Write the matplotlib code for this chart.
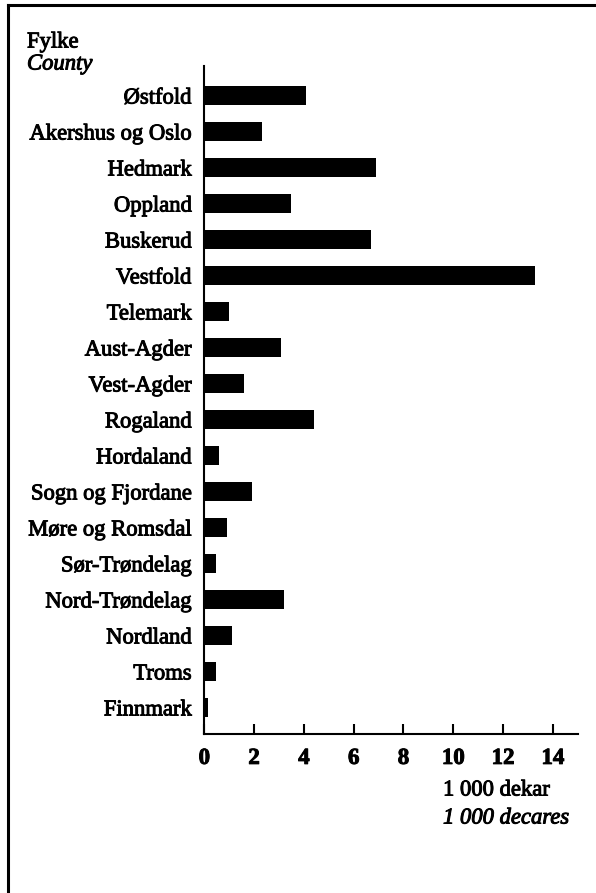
import matplotlib.pyplot as plt
import matplotlib.patheffects as pe
from matplotlib.lines import Line2D

counties = ["Østfold", "Akershus og Oslo", "Hedmark", "Oppland", "Buskerud",
            "Vestfold", "Telemark", "Aust-Agder", "Vest-Agder", "Rogaland",
            "Hordaland", "Sogn og Fjordane", "Møre og Romsdal", "Sør-Trøndelag",
            "Nord-Trøndelag", "Nordland", "Troms", "Finnmark"]
values = [4.1, 2.3, 6.9, 3.5, 6.7, 13.3, 1.0, 3.1, 1.6, 4.4,
          0.6, 1.9, 0.9, 0.45, 3.2, 1.1, 0.45, 0.15]
xticks = [0, 2, 4, 6, 8, 10, 12, 14]

plt.rcParams['font.family'] = ['Liberation Serif', 'DejaVu Serif']
# scanned print looks heavy: thicken glyphs a little
ink = [pe.withStroke(linewidth=0.7, foreground='black')]

fig = plt.figure(figsize=(5.96, 8.93), dpi=100)
W, H = 596, 893
ax = fig.add_axes([204.3 / W, 1 - 734 / H, 373.4 / W, 668 / H])

ypos = list(range(len(counties)))
ax.barh(ypos, values, height=0.53, color='black')

ax.set_xlim(0, 15)
ax.set_ylim(17.74, -0.82)
ax.set_yticks(ypos)
ax.set_yticklabels(counties, fontsize=16.3)
ax.tick_params(axis='y', length=0, pad=9)
ax.set_xticks(xticks)
ax.set_xticklabels([str(t) for t in xticks], fontsize=16.5, fontweight='bold')
ax.tick_params(axis='x', direction='in', length=7, width=1.5, pad=10)
for lab in ax.get_yticklabels() + ax.get_xticklabels():
    lab.set_path_effects(ink)

for s in ['top', 'right']:
    ax.spines[s].set_visible(False)
ax.spines['left'].set_linewidth(1.5)
ax.spines['bottom'].set_linewidth(1.5)

# headings
fig.text(27 / W, 1 - 42 / H, "Fylke", fontsize=16.3, va='center', ha='left',
         path_effects=ink)
fig.text(27 / W, 1 - 64 / H, "County", fontsize=16.3, style='italic',
         va='center', ha='left', path_effects=ink)
fig.text(443 / W, 1 - 790 / H, "1 000 dekar", fontsize=16.3, va='center',
         ha='left', path_effects=ink)
fig.text(443 / W, 1 - 818 / H, "1 000 decares", fontsize=16.3, style='italic',
         va='center', ha='left', path_effects=ink)

# frame (left and top edge)
fig.add_artist(Line2D([8 / W, 8 / W], [0, 1 - 5 / H], color='black', lw=2.2,
                      transform=fig.transFigure))
fig.add_artist(Line2D([8 / W, 1], [1 - 5 / H, 1 - 5 / H], color='black', lw=2.2,
                      transform=fig.transFigure))

fig.savefig("out.png", dpi=100)
